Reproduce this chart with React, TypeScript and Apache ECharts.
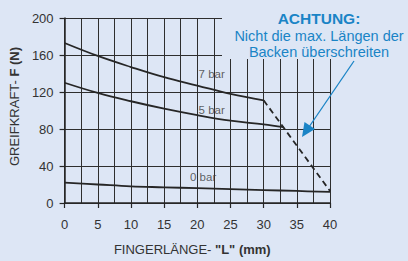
import React, { useEffect, useRef } from "react";
import * as echarts from "echarts";

const xTicks = [0, 5, 10, 15, 20, 25, 30, 35, 40];
const bar7X = [0, 5, 10, 15, 20, 25, 30];
const bar7Y = [173, 159, 147, 136, 127, 118, 111];
const bar5X = [0, 5, 10, 15, 20, 25, 30, 33];
const bar5Y = [130, 119, 110, 102, 95, 89, 85, 82];
const bar0X = [0, 5, 10, 15, 20, 25, 30, 35, 40];
const bar0Y = [22, 20, 18, 17, 16, 15, 14, 13, 12];
const limitX = [30, 40];
const limitY = [111, 13];
const seriesLabels = ["7 bar", "5 bar", "0 bar"];
const labelX = [20.2, 20.2, 18.9];
const labelY = [139.5, 101, 28];

const FONT = "'Liberation Sans', Arial, sans-serif";
const BG = "#dde6f5";
const INK = "#262626";
const GRID = "#2e2e2e";
const BLUE = "#1a84c6";

const zip = (xs: number[], ys: number[]) => xs.map((x, i) => [x, ys[i]]);

export default function App() {
  const ref = useRef<HTMLDivElement>(null);
  useEffect(() => {
    const chart = echarts.init(ref.current!, null, { renderer: "svg" });
    const lineStyle = { color: INK, width: 1.8 };
    chart.setOption({
      animation: false,
      backgroundColor: BG,
      textStyle: { fontFamily: FONT },
      grid: { left: 61, right: 78, top: 18, bottom: 54 },
      xAxis: {
        type: "value",
        min: 0,
        max: 40,
        interval: 5,
        axisLine: { show: true, onZero: false, lineStyle: { color: INK, width: 1.5 } },
        axisTick: { show: true, length: 5, lineStyle: { color: INK, width: 1.2 } },
        axisLabel: { color: "#333", fontSize: 13, margin: 15, fontFamily: FONT },
        splitLine: { show: true, lineStyle: { color: GRID, width: 1 } },
        minorTick: { show: false, splitNumber: 2 },
        minorSplitLine: { show: true, lineStyle: { color: GRID, width: 1 } },
        name: '{n|FINGERLÄNGE- }{b|"L" (mm)}',
        nameLocation: "middle",
        nameGap: 40,
        nameTextStyle: {
          padding: [0, 10, 0, 0],
          rich: {
            n: { fontSize: 13, color: "#333", fontFamily: FONT },
            b: { fontSize: 13, color: "#333", fontWeight: "bold", fontFamily: FONT },
          },
        },
      },
      yAxis: {
        type: "value",
        min: 0,
        max: 200,
        interval: 40,
        axisLine: { show: true, lineStyle: { color: INK, width: 1.5 } },
        axisTick: { show: true, length: 5, lineStyle: { color: INK, width: 1.2 } },
        axisLabel: { color: "#333", fontSize: 13, margin: 11, fontFamily: FONT },
        splitLine: { show: true, lineStyle: { color: GRID, width: 1 } },
        name: "{n|GREIFKRAFT- }{b|F (N)}",
        nameLocation: "middle",
        nameGap: 41,
        nameTextStyle: {
          padding: [0, 0, 0, 8],
          rich: {
            n: { fontSize: 13, color: "#333", fontFamily: FONT },
            b: { fontSize: 13, color: "#333", fontWeight: "bold", fontFamily: FONT },
          },
        },
      },
      series: [
        { type: "line", data: zip(bar7X, bar7Y), smooth: 0.4, symbol: "none", lineStyle },
        { type: "line", data: zip(bar5X, bar5Y), smooth: 0.4, symbol: "none", lineStyle },
        { type: "line", data: zip(bar0X, bar0Y), smooth: 0.4, symbol: "none", lineStyle },
        {
          type: "line",
          data: zip(limitX, limitY),
          symbol: "none",
          lineStyle: { color: INK, width: 1.8, type: [6, 4] },
        },
        {
          type: "scatter",
          symbolSize: 0,
          data: seriesLabels.map((s, i) => [labelX[i], labelY[i], s]),
          label: {
            show: true,
            position: "inside",
            align: "left",
            verticalAlign: "middle",
            formatter: (p: any) => p.data[2],
            color: "#3a3a3a",
            fontSize: 11.5,
            fontFamily: FONT,
          },
        },
      ],
      graphic: [
        { type: "rect", shape: { x: 222, y: 0, width: 186, height: 59 }, style: { fill: BG }, z: 50 },
        {
          type: "text",
          x: 319,
          y: 18.5,
          z: 51,
          style: { text: "ACHTUNG:", fill: BLUE, fontSize: 15.5, fontWeight: "bold", fontFamily: FONT, align: "center", verticalAlign: "middle" },
        },
        {
          type: "text",
          x: 319,
          y: 35.5,
          z: 51,
          style: { text: "Nicht die max. Längen der", fill: BLUE, fontSize: 14.5, fontFamily: FONT, align: "center", verticalAlign: "middle" },
        },
        {
          type: "text",
          x: 319,
          y: 51.5,
          z: 51,
          style: { text: "Backen überschreiten", fill: BLUE, fontSize: 14.5, fontFamily: FONT, align: "center", verticalAlign: "middle" },
        },
        {
          type: "line",
          z: 51,
          shape: { x1: 354, y1: 61, x2: 309, y2: 127 },
          style: { stroke: BLUE, lineWidth: 1.3 },
        },
        {
          type: "polygon",
          z: 51,
          shape: { points: [[302, 137], [304.5, 122], [315, 129]] },
          style: { fill: BLUE },
        },
      ],
    });
    return () => chart.dispose();
  }, []);
  return <div ref={ref} style={{ width: 408, height: 261, position: "absolute", left: 0, top: 0 }} />;
}
